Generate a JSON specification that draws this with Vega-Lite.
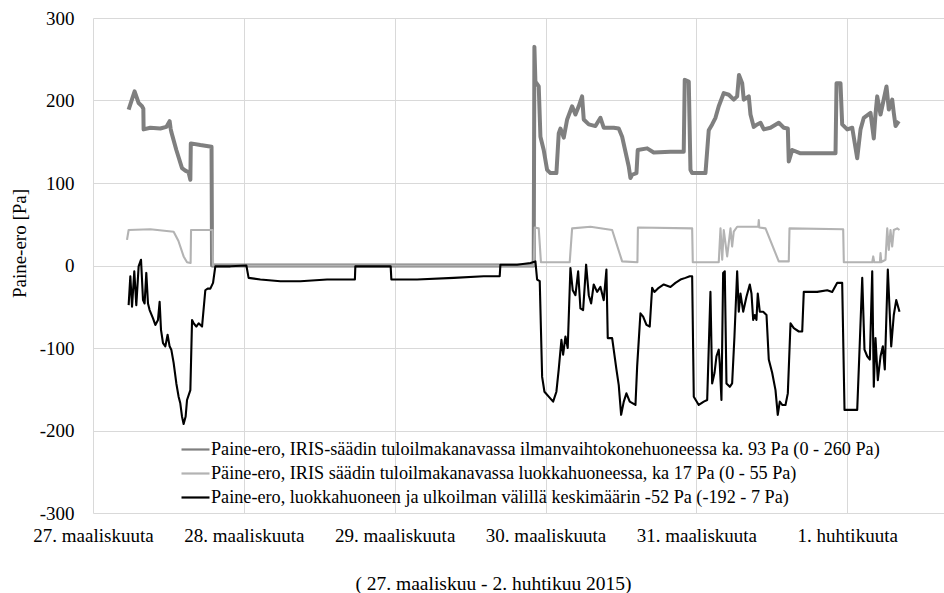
{
"$schema": "https://vega.github.io/schema/vega-lite/v6.json",
"width": 851, "height": 495,
"autosize": "none",
"padding": {"left": 93, "top": 18, "right": 0, "bottom": 80},
"background": "white",
"config": {"view": {"stroke": null}, "font": "Liberation Serif, Times New Roman, DejaVu Serif, serif"},
"data": {"values": [
{"s":"A","h":5.67,"v":189},{"s":"A","h":6.62,"v":211},{"s":"A","h":7.26,"v":197},{"s":"A","h":7.80,"v":193},{"s":"A","h":8.01,"v":190},{"s":"A","h":8.05,"v":165},{"s":"A","h":9.12,"v":167},{"s":"A","h":10.71,"v":166},{"s":"A","h":11.67,"v":168},{"s":"A","h":12.19,"v":175},{"s":"A","h":12.35,"v":166},{"s":"A","h":12.46,"v":162},{"s":"A","h":13.26,"v":140},{"s":"A","h":14.16,"v":118},{"s":"A","h":14.69,"v":115},{"s":"A","h":15.21,"v":113},{"s":"A","h":15.49,"v":104},{"s":"A","h":15.56,"v":148},{"s":"A","h":17.08,"v":146},{"s":"A","h":18.86,"v":144},{"s":"A","h":18.94,"v":0},{"s":"A","h":70.12,"v":0},{"s":"A","h":70.23,"v":265},{"s":"A","h":70.39,"v":223},{"s":"A","h":70.92,"v":217},{"s":"A","h":71.19,"v":156},{"s":"A","h":71.71,"v":140},{"s":"A","h":72.25,"v":116},{"s":"A","h":72.78,"v":112},{"s":"A","h":73.73,"v":112},{"s":"A","h":74.10,"v":160},{"s":"A","h":74.37,"v":166},{"s":"A","h":74.90,"v":155},{"s":"A","h":75.44,"v":177},{"s":"A","h":76.23,"v":193},{"s":"A","h":76.76,"v":183},{"s":"A","h":77.28,"v":193},{"s":"A","h":77.82,"v":205},{"s":"A","h":78.08,"v":177},{"s":"A","h":78.88,"v":171},{"s":"A","h":79.94,"v":169},{"s":"A","h":80.74,"v":179},{"s":"A","h":81.26,"v":167},{"s":"A","h":82.85,"v":167},{"s":"A","h":83.65,"v":166},{"s":"A","h":84.19,"v":156},{"s":"A","h":85.24,"v":120},{"s":"A","h":85.51,"v":106},{"s":"A","h":85.78,"v":110},{"s":"A","h":86.47,"v":112},{"s":"A","h":86.67,"v":140},{"s":"A","h":88.17,"v":142},{"s":"A","h":89.22,"v":137},{"s":"A","h":91.88,"v":138},{"s":"A","h":93.99,"v":138},{"s":"A","h":94.15,"v":225},{"s":"A","h":94.79,"v":223},{"s":"A","h":95.06,"v":116},{"s":"A","h":95.33,"v":112},{"s":"A","h":97.45,"v":112},{"s":"A","h":97.97,"v":164},{"s":"A","h":98.51,"v":171},{"s":"A","h":99.04,"v":179},{"s":"A","h":99.56,"v":193},{"s":"A","h":100.36,"v":209},{"s":"A","h":101.16,"v":207},{"s":"A","h":101.95,"v":201},{"s":"A","h":102.49,"v":205},{"s":"A","h":102.78,"v":231},{"s":"A","h":103.29,"v":221},{"s":"A","h":103.54,"v":201},{"s":"A","h":104.34,"v":205},{"s":"A","h":104.61,"v":183},{"s":"A","h":105.13,"v":168},{"s":"A","h":105.68,"v":171},{"s":"A","h":106.20,"v":173},{"s":"A","h":106.73,"v":165},{"s":"A","h":107.79,"v":167},{"s":"A","h":109.11,"v":173},{"s":"A","h":109.91,"v":167},{"s":"A","h":110.55,"v":166},{"s":"A","h":110.70,"v":126},{"s":"A","h":111.25,"v":140},{"s":"A","h":112.57,"v":136},{"s":"A","h":118.14,"v":136},{"s":"A","h":118.30,"v":221},{"s":"A","h":118.93,"v":221},{"s":"A","h":119.20,"v":171},{"s":"A","h":120.00,"v":165},{"s":"A","h":120.80,"v":167},{"s":"A","h":121.59,"v":130},{"s":"A","h":122.12,"v":165},{"s":"A","h":122.64,"v":179},{"s":"A","h":123.71,"v":185},{"s":"A","h":124.23,"v":154},{"s":"A","h":124.50,"v":183},{"s":"A","h":124.77,"v":205},{"s":"A","h":125.30,"v":183},{"s":"A","h":126.25,"v":217},{"s":"A","h":126.62,"v":189},{"s":"A","h":127.16,"v":201},{"s":"A","h":127.41,"v":185},{"s":"A","h":127.69,"v":169},{"s":"A","h":128.21,"v":175},
{"s":"B","h":5.41,"v":31},{"s":"B","h":5.67,"v":43},{"s":"B","h":9.12,"v":44},{"s":"B","h":12.83,"v":41},{"s":"B","h":13.58,"v":30},{"s":"B","h":14.42,"v":11},{"s":"B","h":14.96,"v":4},{"s":"B","h":15.53,"v":3},{"s":"B","h":15.60,"v":43},{"s":"B","h":19.03,"v":43},{"s":"B","h":19.10,"v":0},{"s":"B","h":70.12,"v":0},{"s":"B","h":70.28,"v":46},{"s":"B","h":70.92,"v":45},{"s":"B","h":71.27,"v":4},{"s":"B","h":75.85,"v":4},{"s":"B","h":76.23,"v":45},{"s":"B","h":79.15,"v":47},{"s":"B","h":82.60,"v":43},{"s":"B","h":84.19,"v":5},{"s":"B","h":86.62,"v":4},{"s":"B","h":86.70,"v":46},{"s":"B","h":95.33,"v":45},{"s":"B","h":95.43,"v":4},{"s":"B","h":99.56,"v":4},{"s":"B","h":99.84,"v":45},{"s":"B","h":100.11,"v":7},{"s":"B","h":100.36,"v":43},{"s":"B","h":100.90,"v":11},{"s":"B","h":101.43,"v":45},{"s":"B","h":101.69,"v":23},{"s":"B","h":101.95,"v":41},{"s":"B","h":102.49,"v":47},{"s":"B","h":104.61,"v":47},{"s":"B","h":105.85,"v":47},{"s":"B","h":105.93,"v":55},{"s":"B","h":106.01,"v":46},{"s":"B","h":107.00,"v":45},{"s":"B","h":109.11,"v":5},{"s":"B","h":110.70,"v":5},{"s":"B","h":110.82,"v":45},{"s":"B","h":119.36,"v":44},{"s":"B","h":119.46,"v":4},{"s":"B","h":123.98,"v":4},{"s":"B","h":124.14,"v":11},{"s":"B","h":124.30,"v":4},{"s":"B","h":125.20,"v":4},{"s":"B","h":125.30,"v":15},{"s":"B","h":125.43,"v":4},{"s":"B","h":126.09,"v":7},{"s":"B","h":126.37,"v":45},{"s":"B","h":126.62,"v":19},{"s":"B","h":126.89,"v":43},{"s":"B","h":127.16,"v":23},{"s":"B","h":127.41,"v":43},{"s":"B","h":127.96,"v":45},{"s":"B","h":128.32,"v":43},
{"s":"C","h":5.67,"v":-48},{"s":"C","h":5.94,"v":-13},{"s":"C","h":6.21,"v":-50},{"s":"C","h":6.57,"v":-7},{"s":"C","h":6.89,"v":-48},{"s":"C","h":7.26,"v":-1},{"s":"C","h":7.64,"v":7},{"s":"C","h":7.96,"v":-42},{"s":"C","h":8.21,"v":-46},{"s":"C","h":8.48,"v":-9},{"s":"C","h":8.75,"v":-46},{"s":"C","h":9.01,"v":-54},{"s":"C","h":9.55,"v":-64},{"s":"C","h":9.92,"v":-72},{"s":"C","h":10.34,"v":-66},{"s":"C","h":10.60,"v":-44},{"s":"C","h":10.82,"v":-78},{"s":"C","h":11.14,"v":-94},{"s":"C","h":11.51,"v":-98},{"s":"C","h":11.87,"v":-84},{"s":"C","h":12.19,"v":-98},{"s":"C","h":12.46,"v":-102},{"s":"C","h":12.83,"v":-118},{"s":"C","h":13.26,"v":-143},{"s":"C","h":13.62,"v":-159},{"s":"C","h":13.89,"v":-167},{"s":"C","h":14.16,"v":-183},{"s":"C","h":14.42,"v":-192},{"s":"C","h":14.74,"v":-183},{"s":"C","h":14.96,"v":-163},{"s":"C","h":15.49,"v":-151},{"s":"C","h":15.76,"v":-66},{"s":"C","h":16.01,"v":-70},{"s":"C","h":16.44,"v":-74},{"s":"C","h":16.81,"v":-70},{"s":"C","h":17.35,"v":-74},{"s":"C","h":17.87,"v":-30},{"s":"C","h":18.24,"v":-28},{"s":"C","h":18.67,"v":-28},{"s":"C","h":19.10,"v":-21},{"s":"C","h":19.46,"v":-1},{"s":"C","h":21.85,"v":-1},{"s":"C","h":24.40,"v":0},{"s":"C","h":24.76,"v":-15},{"s":"C","h":26.63,"v":-17},{"s":"C","h":29.81,"v":-19},{"s":"C","h":32.99,"v":-19},{"s":"C","h":37.24,"v":-17},{"s":"C","h":41.67,"v":-17},{"s":"C","h":41.74,"v":-1},{"s":"C","h":47.36,"v":-1},{"s":"C","h":47.47,"v":-17},{"s":"C","h":51.56,"v":-17},{"s":"C","h":57.39,"v":-15},{"s":"C","h":62.16,"v":-13},{"s":"C","h":64.71,"v":-13},{"s":"C","h":64.82,"v":1},{"s":"C","h":67.48,"v":1},{"s":"C","h":69.60,"v":3},{"s":"C","h":70.39,"v":5},{"s":"C","h":70.66,"v":-17},{"s":"C","h":71.08,"v":-19},{"s":"C","h":71.46,"v":-135},{"s":"C","h":71.83,"v":-153},{"s":"C","h":72.51,"v":-159},{"s":"C","h":73.21,"v":-165},{"s":"C","h":73.73,"v":-153},{"s":"C","h":74.10,"v":-126},{"s":"C","h":74.53,"v":-90},{"s":"C","h":74.80,"v":-108},{"s":"C","h":75.17,"v":-86},{"s":"C","h":75.53,"v":-100},{"s":"C","h":75.96,"v":-3},{"s":"C","h":76.33,"v":-30},{"s":"C","h":76.76,"v":-36},{"s":"C","h":77.19,"v":-7},{"s":"C","h":77.55,"v":-52},{"s":"C","h":77.98,"v":-54},{"s":"C","h":78.46,"v":1},{"s":"C","h":78.88,"v":-36},{"s":"C","h":79.26,"v":-46},{"s":"C","h":79.67,"v":-23},{"s":"C","h":80.21,"v":-32},{"s":"C","h":80.74,"v":-26},{"s":"C","h":81.26,"v":-42},{"s":"C","h":81.69,"v":-5},{"s":"C","h":81.90,"v":-88},{"s":"C","h":82.60,"v":-88},{"s":"C","h":83.28,"v":-126},{"s":"C","h":83.65,"v":-145},{"s":"C","h":84.03,"v":-181},{"s":"C","h":84.45,"v":-165},{"s":"C","h":84.87,"v":-155},{"s":"C","h":85.40,"v":-165},{"s":"C","h":86.31,"v":-169},{"s":"C","h":86.58,"v":-122},{"s":"C","h":87.10,"v":-58},{"s":"C","h":87.53,"v":-62},{"s":"C","h":88.06,"v":-72},{"s":"C","h":88.58,"v":-74},{"s":"C","h":88.96,"v":-27},{"s":"C","h":89.33,"v":-32},{"s":"C","h":90.01,"v":-27},{"s":"C","h":90.81,"v":-23},{"s":"C","h":91.88,"v":-26},{"s":"C","h":92.67,"v":-21},{"s":"C","h":93.47,"v":-17},{"s":"C","h":94.26,"v":-15},{"s":"C","h":94.95,"v":-13},{"s":"C","h":95.33,"v":-13},{"s":"C","h":95.59,"v":-159},{"s":"C","h":96.38,"v":-169},{"s":"C","h":97.18,"v":-165},{"s":"C","h":97.72,"v":-163},{"s":"C","h":98.24,"v":-32},{"s":"C","h":98.51,"v":-143},{"s":"C","h":98.89,"v":-130},{"s":"C","h":99.20,"v":-110},{"s":"C","h":99.56,"v":-102},{"s":"C","h":99.72,"v":-118},{"s":"C","h":99.99,"v":-163},{"s":"C","h":100.26,"v":-9},{"s":"C","h":100.52,"v":-7},{"s":"C","h":100.79,"v":-143},{"s":"C","h":101.32,"v":-147},{"s":"C","h":101.69,"v":-143},{"s":"C","h":102.06,"v":-86},{"s":"C","h":102.49,"v":-7},{"s":"C","h":102.75,"v":-56},{"s":"C","h":103.02,"v":-34},{"s":"C","h":103.45,"v":-56},{"s":"C","h":103.97,"v":-38},{"s":"C","h":104.50,"v":-23},{"s":"C","h":104.77,"v":-34},{"s":"C","h":105.04,"v":-66},{"s":"C","h":105.29,"v":-60},{"s":"C","h":105.56,"v":-66},{"s":"C","h":105.77,"v":-34},{"s":"C","h":106.09,"v":-56},{"s":"C","h":106.63,"v":-56},{"s":"C","h":107.16,"v":-60},{"s":"C","h":107.52,"v":-114},{"s":"C","h":108.06,"v":-130},{"s":"C","h":108.59,"v":-151},{"s":"C","h":108.95,"v":-181},{"s":"C","h":109.27,"v":-165},{"s":"C","h":109.66,"v":-169},{"s":"C","h":110.18,"v":-169},{"s":"C","h":110.55,"v":-155},{"s":"C","h":110.98,"v":-70},{"s":"C","h":111.50,"v":-76},{"s":"C","h":112.30,"v":-80},{"s":"C","h":112.84,"v":-80},{"s":"C","h":113.09,"v":-32},{"s":"C","h":115.22,"v":-32},{"s":"C","h":116.82,"v":-30},{"s":"C","h":117.61,"v":-32},{"s":"C","h":118.41,"v":-21},{"s":"C","h":119.20,"v":-21},{"s":"C","h":119.57,"v":-175},{"s":"C","h":121.59,"v":-175},{"s":"C","h":122.00,"v":-94},{"s":"C","h":122.39,"v":-15},{"s":"C","h":122.75,"v":-102},{"s":"C","h":123.18,"v":-110},{"s":"C","h":123.60,"v":-114},{"s":"C","h":123.98,"v":-7},{"s":"C","h":124.23,"v":-147},{"s":"C","h":124.50,"v":-88},{"s":"C","h":124.87,"v":-139},{"s":"C","h":125.30,"v":-110},{"s":"C","h":125.67,"v":-98},{"s":"C","h":125.98,"v":-126},{"s":"C","h":126.46,"v":-5},{"s":"C","h":127.00,"v":-98},{"s":"C","h":127.41,"v":-60},{"s":"C","h":127.80,"v":-42},{"s":"C","h":128.32,"v":-56}
]},
"mark": {"type": "line", "strokeJoin": "round"},
"encoding": {
  "x": {"field": "h", "type": "quantitative", "scale": {"domain": [0, 135.4], "nice": false, "zero": false},
    "axis": {"values": [0,24,48,72,96,120], "labelExpr": "['27. maaliskuuta','28. maaliskuuta','29. maaliskuuta','30. maaliskuuta','31. maaliskuuta','1. huhtikuuta'][round(datum.value/24)]",
      "domain": false, "ticks": false, "grid": true, "gridColor": "#d9d9d9", "gridWidth": 1,
      "labelFont": "Liberation Serif, Times New Roman, DejaVu Serif, serif", "labelFontSize": 19, "labelColor": "#000000", "labelPadding": 13, "labelFlush": false, "labelOverlap": false,
      "title": "( 27. maaliskuu - 2. huhtikuu 2015)", "titleFont": "Liberation Serif, Times New Roman, DejaVu Serif, serif", "titleFontSize": 19.5, "titleFontWeight": "normal", "titleColor": "#000000",
      "titleX": 400, "titleY": 70, "titleBaseline": "middle", "titleAlign": "center"}},
  "y": {"field": "v", "type": "quantitative", "scale": {"domain": [-300, 300], "nice": false},
    "axis": {"values": [-300,-200,-100,0,100,200,300], "labelExpr": "'' + datum.value", "domain": false, "ticks": false, "grid": true, "gridColor": "#d9d9d9", "gridWidth": 1,
      "labelFont": "Liberation Serif, Times New Roman, DejaVu Serif, serif", "labelFontSize": 19, "labelColor": "#000000", "labelPadding": 19, "labelFlush": false, "labelOverlap": false,
      "title": "Paine-ero [Pa]", "titleFont": "Liberation Serif, Times New Roman, DejaVu Serif, serif", "titleFontSize": 19, "titleFontWeight": "normal", "titleColor": "#000000",
      "titleX": -74, "titleY": 225, "titleAngle": -90, "titleBaseline": "middle", "titleAlign": "center"}},
  "color": {"field": "s", "type": "nominal",
    "scale": {"domain": ["A","B","C"], "range": ["#7f7f7f","#b3b3b3","#000000"]},
    "legend": {"orient": "none", "legendX": 87, "legendY": 416, "title": null, "direction": "vertical",
      "symbolType": "stroke", "symbolSize": 784, "symbolStrokeWidth": 2.2,
      "labelFont": "Liberation Serif, Times New Roman, DejaVu Serif, serif", "labelFontSize": 18.2, "labelColor": "#000000", "labelLimit": 0, "labelOffset": 0, "rowPadding": 0, "padding": 0,
      "labelExpr": "datum.label == 'A' ? 'Paine-ero, IRIS-säädin tuloilmakanavassa ilmanvaihtokonehuoneessa ka. 93 Pa (0 - 260 Pa)' : datum.label == 'B' ? 'Päine-ero, IRIS säädin tuloilmakanavassa luokkahuoneessa, ka 17 Pa (0 - 55 Pa)' : 'Paine-ero, luokkahuoneen ja ulkoilman välillä keskimäärin -52 Pa (-192 - 7 Pa)'"}},
  "strokeWidth": {"condition": {"test": "datum.s == 'A'", "value": 4}, "value": 2.1}
}
}
